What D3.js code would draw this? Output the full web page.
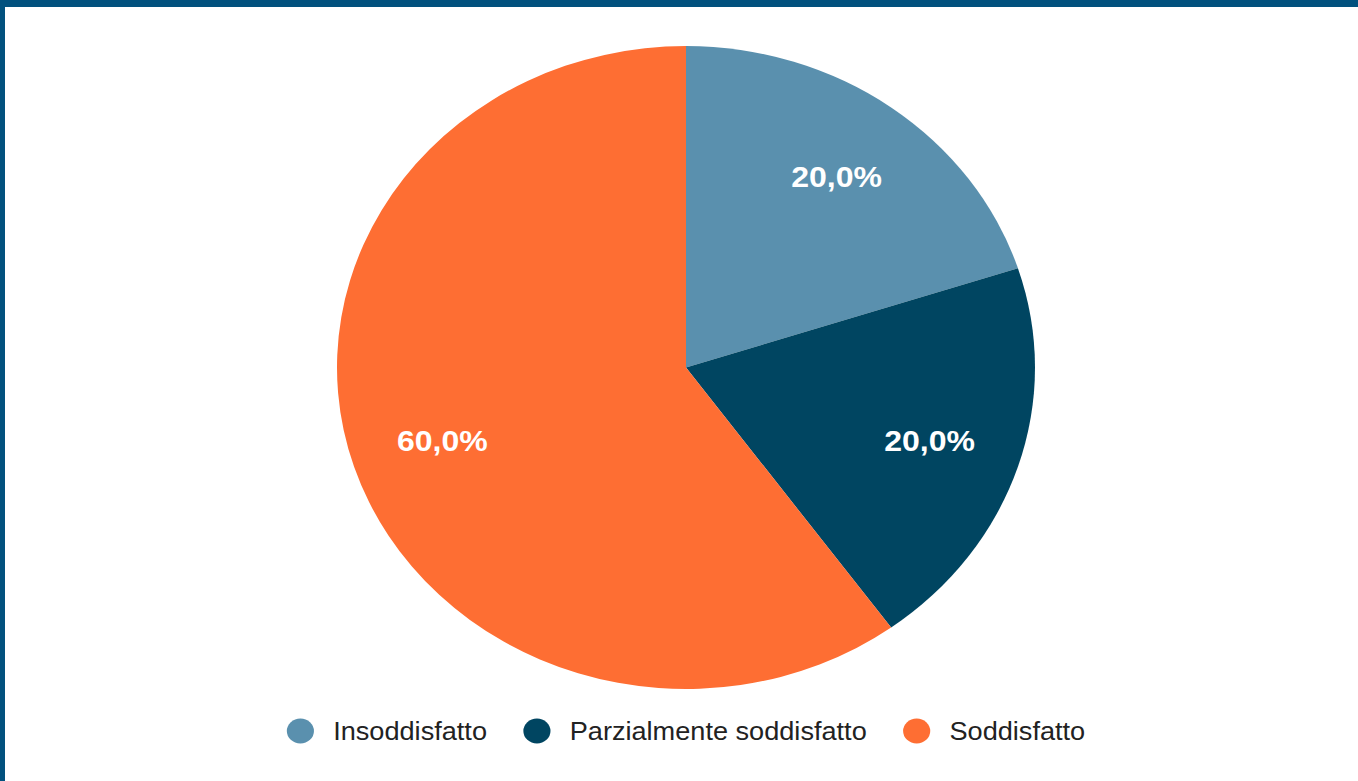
<!DOCTYPE html>
<html><head><meta charset="utf-8">
<script src="https://cdn.jsdelivr.net/npm/d3@7"></script>
<style>html,body{margin:0;padding:0;background:#fff;overflow:hidden}</style>
</head><body>
<script>
const categories = ["Insoddisfatto", "Parzialmente soddisfatto", "Soddisfatto"];
const values = [20.0, 20.0, 60.0];
const colors = ["#5a90ae", "#004561", "#fe6e33"];

const W = 1358, H = 781;
const svg = d3.select("body").append("svg").attr("width", W).attr("height", H);
svg.append("rect").attr("width", W).attr("height", H).attr("fill", "#fff");
svg.append("rect").attr("x", 0).attr("y", 0).attr("width", W).attr("height", 7).attr("fill", "#02517e");
svg.append("rect").attr("x", 0).attr("y", 0).attr("width", 5).attr("height", H).attr("fill", "#02517e");

const sx = 349 / 321.5;
const g = svg.append("g").attr("transform", `translate(686,0) scale(${sx},1)`);
const R = 321.5, cy = 367.5;

const pie = d3.pie().sort(null).value(d => d)(values);
const arc = d3.arc().innerRadius(0).outerRadius(R);
const labelArc = d3.arc().innerRadius(236).outerRadius(236);
const fmt = v => v.toFixed(1).replace(".", ",") + "%";

const pg = g.append("g").attr("transform", `translate(0,${cy})`);
pg.selectAll("path").data(pie).join("path")
  .attr("d", arc).attr("fill", (d, i) => colors[i]);
pg.selectAll("text").data(pie).join("text")
  .attr("transform", d => `translate(${labelArc.centroid(d)})`)
  .attr("text-anchor", "middle").attr("dy", "0.36em")
  .attr("font-family", "Liberation Sans, Arial, sans-serif")
  .attr("font-weight", "bold").attr("font-size", 29.5).attr("fill", "#fff")
  .text(d => fmt(d.data));

// legend
const lg = g.append("g").attr("transform", "translate(0,731)");
const items = lg.selectAll("g").data(categories).join("g");
items.append("circle").attr("r", 12.5).attr("fill", (d, i) => colors[i]);
items.append("text").attr("x", 30.2).attr("dy", "0.35em")
  .attr("font-family", "Liberation Sans, Arial, sans-serif")
  .attr("font-size", 25).attr("fill", "#222").text(d => d);
const widths = [];
items.each(function() { widths.push(d3.select(this).select("text").node().getComputedTextLength()); });
let cur = 0; const starts = [];
widths.forEach((w) => { starts.push(cur); cur += 30.2 + w + 46; });
const total = starts[starts.length - 1] + 30.2 + widths[widths.length - 1] + 12.5;
const off = -total / 2 + 12.5;
items.attr("transform", (d, i) => `translate(${off + starts[i]},0)`);
</script>
</body></html>
